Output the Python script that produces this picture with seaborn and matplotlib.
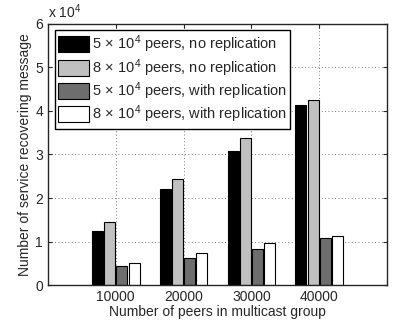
import numpy as np
import pandas as pd
import matplotlib
matplotlib.use("Agg")
import matplotlib.pyplot as plt
import seaborn as sns
from matplotlib.ticker import FuncFormatter, MultipleLocator

# Data: number of service recovering messages per multicast group size
group_sizes = ["10000", "20000", "30000", "40000"]
series_labels = [
    r"5$\,\times\,$10$^4$ peers, no replication",
    r"8$\,\times\,$10$^4$ peers, no replication",
    r"5$\,\times\,$10$^4$ peers, with replication",
    r"8$\,\times\,$10$^4$ peers, with replication",
]
peers5e4_norep = [12450, 22050, 30900, 41400]
peers8e4_norep = [14500, 24300, 33700, 42500]
peers5e4_rep = [4400, 6150, 8300, 10800]
peers8e4_rep = [5100, 7250, 9600, 11200]
bar_colors = ["#000000", "#c0c0c0", "#6e6e6e", "#ffffff"]

all_series = [peers5e4_norep, peers8e4_norep, peers5e4_rep, peers8e4_rep]
df = pd.DataFrame({
    "group": np.repeat([group_sizes], 4, axis=0).ravel(),
    "series": np.repeat(series_labels, len(group_sizes)),
    "value": np.concatenate(all_series),
})

sns.set_style("ticks")
plt.rcParams["font.family"] = ["Liberation Sans", "DejaVu Sans"]
plt.rcParams["mathtext.fontset"] = "custom"
plt.rcParams["mathtext.rm"] = "Liberation Sans"
plt.rcParams["mathtext.it"] = "Liberation Sans:italic"

fig = plt.figure(figsize=(3.93, 3.28), dpi=100)
ax = fig.add_axes([0.122, 0.131, 0.863, 0.796])

sns.barplot(
    data=df, x="group", y="value", hue="series",
    order=group_sizes, hue_order=series_labels,
    palette=bar_colors, width=0.72, gap=0.1,
    edgecolor="black", linewidth=0.8, saturation=1,
    ax=ax, legend=True,
)

ax.set_xlim(-1, 4)
ax.set_ylim(0, 60000)
ax.yaxis.set_major_locator(MultipleLocator(10000))
ax.yaxis.set_major_formatter(FuncFormatter(lambda v, p: f"{v/1e4:g}"))
ax.text(0.0, 1.012, r"x 10$^4$", transform=ax.transAxes, fontsize=10,
        ha="left", va="bottom")

ax.grid(True, linestyle=(0, (1, 3)), color="#555555", linewidth=0.6)
ax.set_axisbelow(True)
for s in ax.spines.values():
    s.set_visible(True)
    s.set_linewidth(1.0)
ax.tick_params(direction="in", top=True, right=True, labelsize=10, length=3)

ax.set_xlabel("Number of peers in multicast group", fontsize=10, labelpad=1)
ax.set_ylabel("Number of service recovering message", fontsize=10, labelpad=2)

leg = ax.legend(
    loc="upper left", bbox_to_anchor=(0.02, 0.977), fontsize=10.5,
    frameon=True, fancybox=False, framealpha=1, edgecolor="black",
    handlelength=2.1, handleheight=1.3, labelspacing=0.12,
    handletextpad=0.2, borderpad=0.25, borderaxespad=0,
)
leg.get_frame().set_linewidth(1.0)

fig.savefig("out.png", dpi=100)
